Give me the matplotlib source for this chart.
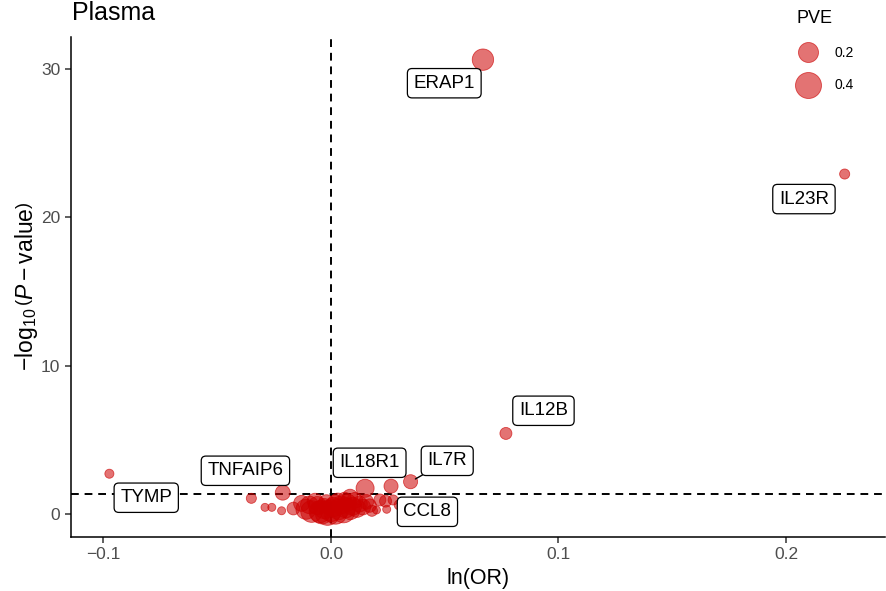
import numpy as np
import matplotlib
matplotlib.use("Agg")
import matplotlib.pyplot as plt
from matplotlib.lines import Line2D

plt.rcParams["font.family"] = ["Liberation Sans", "DejaVu Sans"]
plt.rcParams["mathtext.fontset"] = "custom"
plt.rcParams["mathtext.rm"] = "Liberation Sans"
plt.rcParams["mathtext.it"] = "Liberation Sans:italic"

# named proteins (labelled on the plot)
genes = ["ERAP1", "IL23R", "IL12B", "IL7R", "IL18R1", "TNFAIP6", "TYMP", "CCL8"]
gene_lnor = [0.0668, 0.2258, 0.0769, 0.0350, 0.0264, -0.0212, -0.0974, 0.0273]
gene_logp = [30.65, 22.93, 5.42, 2.16, 1.86, 1.42, 2.70, 0.93]
gene_pve = [0.24, 0.02, 0.04, 0.07, 0.07, 0.085, 0.012, 0.02]

# remaining proteins (unlabelled cloud around the origin)
other_lnor = [-0.0350, -0.0290, -0.0260, -0.0217, -0.0129, -0.0048, 0.0084, 0.0150,
              0.0215, 0.0240, 0.0200, 0.0245, 0.0300, -0.0110, -0.0085, -0.0060,
              -0.0040, -0.0030, -0.0015, 0.0000, 0.0010, 0.0020, 0.0035, 0.0045,
              0.0055, 0.0065, 0.0075, 0.0085, 0.0095, 0.0105, 0.0115, 0.0125,
              0.0140, 0.0155, 0.0170, -0.0070, -0.0095, 0.0030, 0.0060, 0.0020,
              -0.0020, 0.0180, -0.0165]
other_logp = [1.04, 0.43, 0.43, 0.20, 0.70, 0.14, 1.15, 1.72,
              0.93, 0.85, 0.25, 0.30, 0.60, 0.30, 0.15, 0.55,
              0.10, 0.35, 0.05, 0.20, 0.45, 0.08, 0.30, 0.60,
              0.15, 0.40, 0.75, 0.25, 0.50, 0.90, 0.35, 0.65,
              0.45, 0.80, 0.55, 0.85, 0.60, 0.90, 1.00, 0.70,
              0.75, 0.20, 0.35]
other_pve = [0.02, 0.006, 0.006, 0.006, 0.105, 0.26, 0.085, 0.15,
             0.04, 0.04, 0.006, 0.006, 0.02, 0.20, 0.25, 0.15,
             0.30, 0.20, 0.35, 0.25, 0.18, 0.30, 0.22, 0.15,
             0.28, 0.20, 0.12, 0.18, 0.15, 0.10, 0.14, 0.10,
             0.10, 0.08, 0.06, 0.10, 0.14, 0.08, 0.06, 0.12,
             0.10, 0.03, 0.05]

legend_pve = [0.2, 0.4]
p_cut = 0.05

# label box placement (ggrepel-like offsets, in data units)
label_pos = {
    "ERAP1": (0.0498, 29.06), "IL23R": (0.2079, 21.24), "IL12B": (0.0934, 6.95),
    "IL7R": (0.0511, 3.57), "IL18R1": (0.0170, 3.44), "TNFAIP6": (-0.0376, 2.90),
    "TYMP": (-0.0812, 1.08), "CCL8": (0.0424, 0.13),
}

DPI = 100


def size_of(v):
    # area scale like ggplot: diameter grows with sqrt(PVE)
    d_px = 5.5 + 32.4 * np.sqrt(np.asarray(v))
    return (d_px * 72 / DPI) ** 2


fill = (0.80, 0.0, 0.0, 0.55)
edge = (0.80, 0.0, 0.0, 0.65)

fig = plt.figure(figsize=(8.86, 5.91), dpi=DPI)
ax = fig.add_axes([0.0798, 0.0919, 0.919, 0.846])

x_all = np.array(other_lnor + gene_lnor)
y_all = np.array(other_logp + gene_logp)
p_all = np.array(other_pve + gene_pve)
ax.scatter(x_all, y_all, s=size_of(p_all), facecolor=fill, edgecolor=edge,
           linewidth=0.6, zorder=3)

ax.axhline(-np.log10(p_cut), color="black", ls=(0, (4, 3)), lw=1.4, zorder=2)
ax.axvline(0, color="black", ls=(0, (4, 3)), lw=1.4, zorder=2)

box = dict(boxstyle="round,pad=0.33,rounding_size=0.25", fc="white", ec="black", lw=0.9)
for g, gx, gy in zip(genes, gene_lnor, gene_logp):
    lx, ly = label_pos[g]
    if g == "IL7R":
        ax.annotate(g, xy=(gx, gy), xytext=(lx, ly), fontsize=13.5, ha="center",
                    va="center", bbox=box, zorder=5,
                    arrowprops=dict(arrowstyle="-", color="black", lw=1.0,
                                    shrinkA=0, shrinkB=4))
    else:
        ax.text(lx, ly, g, fontsize=13.5, ha="center", va="center", bbox=box, zorder=5)

ax.set_xlim(-0.1144, 0.2435)
ax.set_ylim(-1.55, 32.2)
ax.set_xticks([-0.1, 0.0, 0.1, 0.2])
ax.set_xticklabels(["\u22120.1", "0.0", "0.1", "0.2"])
ax.set_yticks([0, 10, 20, 30])
ax.tick_params(labelsize=12.5, labelcolor="#4D4D4D", color="#333333",
               length=4, width=1.1)
for side in ["top", "right"]:
    ax.spines[side].set_visible(False)
for side in ["left", "bottom"]:
    ax.spines[side].set_linewidth(1.1)

ax.set_xlabel("ln(OR)", fontsize=15.5, labelpad=4)
ax.set_ylabel(r"$-\log_{10}\left(\mathit{P}-\mathrm{value}\right)$", fontsize=16.5, labelpad=1)

fig.text(72 / 886, 1 - 20 / 591, "Plasma", fontsize=18, ha="left", va="baseline")

handles = [Line2D([], [], marker="o", ls="", markersize=np.sqrt(size_of(v)),
                  markerfacecolor=fill, markeredgecolor=edge, markeredgewidth=0.6)
           for v in legend_pve]
leg = ax.legend(handles, [str(v) for v in legend_pve], title="PVE", frameon=False,
                loc="upper left", bbox_to_anchor=(790 / 886, 1 - 3 / 591),
                bbox_transform=fig.transFigure, fontsize=10, title_fontsize=13,
                labelspacing=1.35, handlelength=1.6, handletextpad=1.1,
                borderpad=0, alignment="left")

fig.savefig("out.png", dpi=DPI)
